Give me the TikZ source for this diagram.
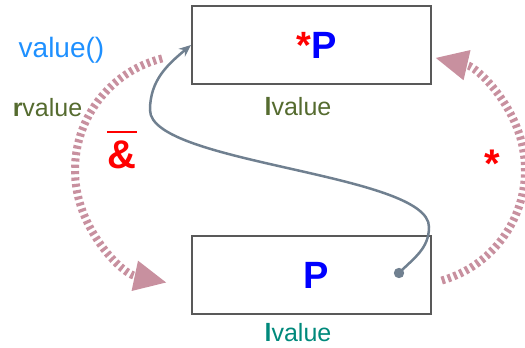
\documentclass[tikz,border=0pt]{standalone}
\usepackage{fontspec}
\setmainfont{Liberation Sans}
\usepackage{xcolor}
\usetikzlibrary{arrows.meta, positioning}
\definecolor{arcpink}{HTML}{C8909F}
\definecolor{slate}{HTML}{708090}
\definecolor{callblue}{HTML}{1E90FF}
\definecolor{olivekind}{HTML}{556B2F}
\definecolor{tealkind}{HTML}{00897B}
\begin{document}
\begin{tikzpicture}[x=0.5pt, y=0.5pt, >=Stealth,
  cellbox/.style={draw=black!65, line width=1pt, minimum width=119.5pt, minimum height=39pt, inner sep=0pt, font=\fontsize{19}{22}\selectfont\bfseries},
  tag/.style={inner sep=1pt, font=\fontsize{12.5}{15}\selectfont},
  opsign/.style={inner sep=0pt, text=red, font=\fontsize{20}{24}\selectfont\bfseries},
  refarc/.style={draw=arcpink, line width=4pt, dash pattern=on 1.6pt off 1.6pt, -{Triangle[length=16pt, width=15.5pt, line width=0pt]}}]
\useasboundingbox (0,0) rectangle (525,348);
\node[cellbox] (deref) at (311.5,303) {\hspace*{5pt}\textcolor{red}{*}\textcolor{blue}{P}};
\node[cellbox, below=75pt of deref] (ptr) {\hspace*{5pt}\textcolor{blue}{P}};
\node[tag, text=olivekind] (derefkind) at (298,241) {\textbf{l}value};
\node[tag, text=tealkind] (ptrkind) at (298,15) {\textbf{l}value};
\node[tag, text=callblue, font=\fontsize{14}{17}\selectfont] (call) at (61.5,298) {value()};
\node[tag, text=olivekind] (rkind) at (47.5,240) {\textbf{r}value};
\node[opsign] (amp) at (122,193.5) {\&};
\draw[red, line width=1pt] ([yshift=4pt]amp.north west) -- ([yshift=4pt]amp.north east);
\node[opsign] (star) at (492,184) {*};

% address-of and dereference arcs
\coordinate (lefthub) at (190,178);
\coordinate (righthub) at (410,178);
\draw[refarc] ([shift={(104:57.5pt)}]lefthub) arc[start angle=104, end angle=258, radius=57.5pt];
\draw[refarc] ([shift={(-74:57.5pt)}]righthub) arc[start angle=-74, end angle=77, radius=57.5pt];

% pointer
\coordinate (grip) at (399,75);
\draw[slate, line width=1.25pt, -{Stealth[length=6pt, width=5pt]}] (grip) to[out=45, in=-90] (429,121) .. controls (429,175) and (150,184) .. (150,238) to[out=90, in=-140] (deref.west);
\fill[slate] (grip) circle[radius=2.6pt];
\end{tikzpicture}
\end{document}
